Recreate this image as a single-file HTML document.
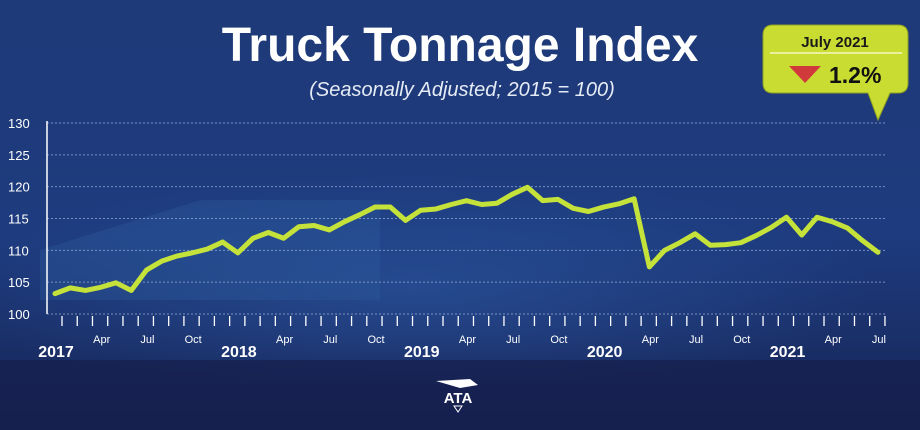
<!DOCTYPE html>
<html><head><meta charset="utf-8"><style>
html,body{margin:0;padding:0;width:920px;height:430px;overflow:hidden;background:#1d3470}
svg{display:block}
text{font-family:"Liberation Sans",sans-serif}
</style></head><body>
<svg id="chart" width="920" height="430" viewBox="0 0 920 430">
<defs>
<linearGradient id="bg" x1="0" y1="0" x2="0" y2="1">
<stop offset="0" stop-color="#1f3a78"/><stop offset="0.55" stop-color="#1d3b7e"/><stop offset="0.8" stop-color="#1a2f68"/><stop offset="1" stop-color="#141f50"/>
</linearGradient>
<radialGradient id="glow" cx="0.45" cy="0.6" r="0.5"><stop offset="0" stop-color="#2e5aa6" stop-opacity="0.55"/><stop offset="1" stop-color="#2e5aa6" stop-opacity="0"/></radialGradient>
</defs>
<rect width="920" height="430" fill="url(#bg)"/>
<rect x="0" y="150" width="920" height="230" fill="url(#glow)"/>
<polygon points="40,250 200,200 380,200 380,300 40,300" fill="#2f5c9e" opacity="0.35"/>
<rect x="0" y="360" width="920" height="70" fill="#16214f" opacity="0.8"/>
<text x="460" y="61" text-anchor="middle" fill="#fff" font-size="48" font-weight="bold">Truck Tonnage Index</text>
<text x="462" y="96" text-anchor="middle" fill="#e6ecf5" font-size="20" font-style="italic">(Seasonally Adjusted; 2015 = 100)</text>
<g id="grid"></g>
<g id="axes"></g>
<g id="series"></g>
<g>
<path d="M773,25 H898 Q908,25 908,35 V83 Q908,93 898,93 H890 L878,120 L868,93 H773 Q763,93 763,83 V35 Q763,25 773,25 Z" fill="#c8dc32" stroke="#8fa020" stroke-width="1"/>
<line x1="770" y1="53" x2="902" y2="53" stroke="#f4f8c0" stroke-width="1.5"/>
<text x="835" y="47" text-anchor="middle" font-size="15" font-weight="bold" fill="#1a1a1a">July 2021</text>
<polygon points="789,66 821,66 805,83" fill="#d03a3a"/>
<text x="829" y="83" font-size="23" font-weight="bold" fill="#111">1.2%</text>
</g>
<g>
<path d="M436,381 L470,379 L478,385 L460,388 Z" fill="#fff"/>
<text x="458" y="403" text-anchor="middle" font-size="15" font-weight="bold" fill="#fff">ATA</text>
<polygon points="454,406 462,406 458,412" fill="none" stroke="#fff" stroke-width="1"/>
</g>
</svg>
<script>
const yTicks=[100,105,110,115,120,125,130];
const monthLabels=["Apr","Jul","Oct"];
const years=["2017","2018","2019","2020","2021"];
const values=[103.2,104.1,103.7,104.2,104.9,103.7,106.9,108.3,109.1,109.6,110.2,111.3,
109.6,111.9,112.8,111.9,113.7,113.9,113.2,114.5,115.6,116.8,116.8,114.7,
116.3,116.5,117.2,117.8,117.2,117.4,118.8,119.9,117.8,118.0,116.6,116.1,
116.8,117.3,118.1,107.4,110.0,111.2,112.6,110.8,110.9,111.2,112.3,113.6,
115.2,112.4,115.2,114.5,113.5,111.5,109.7];
const NS="http://www.w3.org/2000/svg";
const x0=55,dx=15.24,yTop=123,yBot=314,vMin=100,vMax=130;
function xs(i){return x0+i*dx;}
function ys(v){return yBot-(v-vMin)/(vMax-vMin)*(yBot-yTop);}
function mk(tag,attrs,parent){const e=document.createElementNS(NS,tag);for(const k in attrs)e.setAttribute(k,attrs[k]);parent.appendChild(e);return e;}
const grid=document.getElementById('grid'),axes=document.getElementById('axes'),series=document.getElementById('series');
yTicks.forEach(t=>{
 const l=mk('line',{x1:47,x2:885,y1:ys(t),y2:ys(t),stroke:'#9fb4dc','stroke-width':1,'stroke-dasharray':'2,2',opacity:0.7},grid);
 
 
 const tx=mk('text',{x:8,y:ys(t)+5,fill:'#fff','font-size':13},axes);
 tx.textContent=t;
 
 
});
const ya=mk('line',{x1:47,x2:47,y1:ys(130)-2,y2:ys(100),stroke:'#fff','stroke-width':1.5},axes);


for(let i=0;i<values.length;i++){
 const t=mk('line',{x1:xs(i)+7,x2:xs(i)+7,y1:ys(100)+2,y2:ys(100)+12,stroke:'#fff','stroke-width':1.3},axes);
 
 
 const m=i%12;
 if(m===0){
  const tx=mk('text',{x:xs(i)+1,y:ys(100)+43,fill:'#fff','font-size':16,'font-weight':'bold','text-anchor':'middle'},axes);
  tx.textContent=years[i/12];
  
  
 } else if(m%3===0){
  const tx=mk('text',{x:xs(i)+1,y:ys(100)+29,fill:'#fff','font-size':11,'text-anchor':'middle'},axes);
  tx.textContent=monthLabels[m/3-1];
  
  
 }
}
const p=mk('polyline',{points:values.map((v,i)=>xs(i)+','+ys(v)).join(' '),fill:'none',stroke:'#c5e23a','stroke-width':5,'stroke-linejoin':'round','stroke-linecap':'round'},series);


</script>
</body></html>
